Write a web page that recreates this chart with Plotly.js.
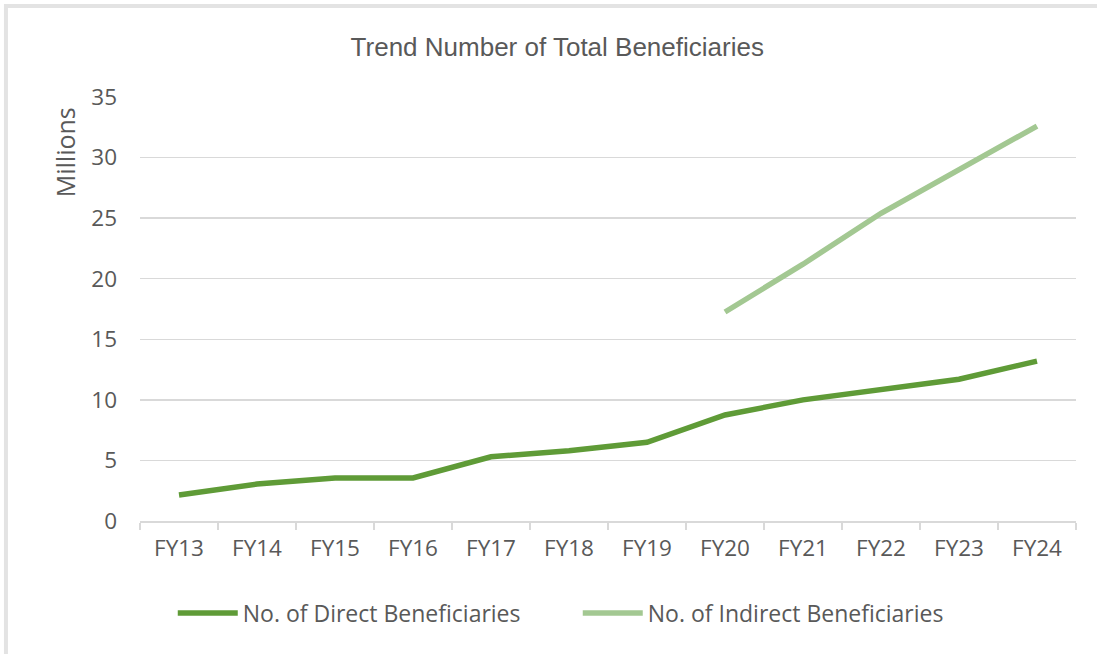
<!DOCTYPE html>
<html><head><meta charset="utf-8">
<script src="https://cdn.plot.ly/plotly-3.0.1.min.js"></script>
<style>html,body{margin:0;padding:0;background:#fff}#c{width:1097px;height:654px}</style>
</head><body><div id="c"></div>
<script>
const categories = ["FY13","FY14","FY15","FY16","FY17","FY18","FY19","FY20","FY21","FY22","FY23","FY24"];
const directValues = [2.15, 3.05, 3.55, 3.55, 5.3, 5.8, 6.5, 8.75, 10.0, 10.8, 11.7, 13.2];
const indirectValues = [null, null, null, null, null, null, null, 17.25, 21.2, 25.4, 29.0, 32.6];
const yTicks = [0,5,10,15,20,25,30,35];

const traces = [
  {x: categories, y: directValues, type:'scatter', mode:'lines', name:'No. of Direct Beneficiaries',
   line:{color:'#5f9b37', width:5.5}, connectgaps:false},
  {x: categories, y: indirectValues, type:'scatter', mode:'lines', name:'No. of Indirect Beneficiaries',
   line:{color:'#a3c892', width:5.5}, connectgaps:false}
];
const layout = {
  width:1097, height:654,
  margin:{l:140, r:21, t:97, b:133},
  paper_bgcolor:'#fff', plot_bgcolor:'#fff',
  title:{text:'Trend Number of Total Beneficiaries', x:0.508, xanchor:'center', y:0.928, yanchor:'middle',
         font:{family:'Liberation Sans, Arial', size:26, color:'#595959'}},
  xaxis:{type:'category', range:[-0.5,11.5], showgrid:false, zeroline:false,
         showline:true, linecolor:'#d9d9d9', linewidth:1.5,
         ticks:'outside', tickson:'boundaries', ticklen:7, tickcolor:'#d9d9d9', tickwidth:1.5,
         tickfont:{family:'Open Sans, Noto Sans', size:22.5, color:'#595959'}, ticklabelstandoff:6},
  yaxis:{range:[0,35], tickvals:yTicks, showgrid:true, gridcolor:'#d9d9d9', gridwidth:1.5,
         zeroline:false, showline:false, ticks:'', ticklabelstandoff:22,
         tickfont:{family:'Open Sans, Noto Sans', size:22.5, color:'#595959'}},
  showlegend:true,
  legend:{orientation:'h', x:0.035, xanchor:'left', y:-0.217, yanchor:'middle',
          bgcolor:'rgba(0,0,0,0)',
          font:{family:'Open Sans, Noto Sans', size:23, color:'#595959'},
          itemwidth:60, tracegroupgap:0, entrywidth:330, entrywidthmode:'pixels'},
  annotations:[{text:'Millions', xref:'paper', yref:'paper', x:-0.08, y:0.87, textangle:-90,
                showarrow:false, xanchor:'center', yanchor:'middle',
                font:{family:'Open Sans, Noto Sans', size:25, color:'#595959'}}],
  shapes:[
    {type:'rect', xref:'paper', yref:'paper', x0:-0.1432, x1:1.04, y0:-0.35, y1:1.2146,
     line:{color:'#e3e3e3', width:4}, fillcolor:'rgba(0,0,0,0)', layer:'below'}
  ]
};
Plotly.newPlot('c', traces, layout, {displayModeBar:false, staticPlot:true});
</script></body></html>
